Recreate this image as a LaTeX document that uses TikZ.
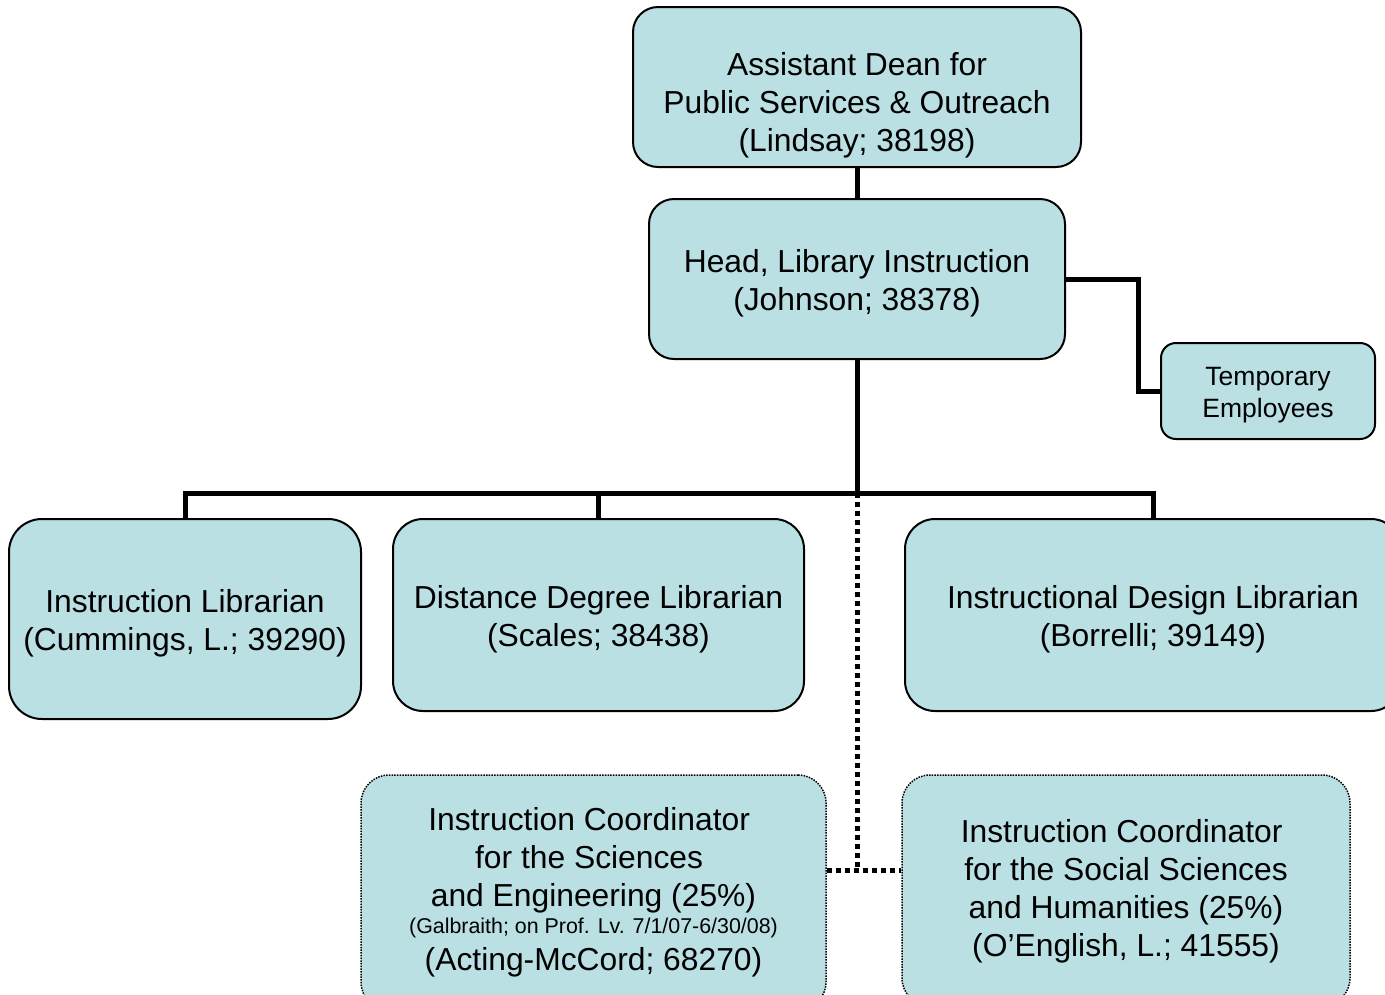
\documentclass[tikz,border=0pt]{standalone}
\usepackage{fontspec}
\setmainfont{Liberation Sans}
\definecolor{boxfill}{RGB}{186,224,228}
\newcommand{\trailsp}{\rule{8.8pt}{0pt}}
\begin{document}
\begin{tikzpicture}[x=1pt,y=-1pt,
  box/.style={draw=black, line width=2pt, fill=boxfill, rounded corners=30pt, inner sep=0pt},
  dbox/.style={box, line width=1.5pt, dash pattern=on 1.5pt off 1.2pt, rounded corners=28pt},
  lbl/.style={align=center, inner sep=0pt, font=\fontsize{31.8}{38}\selectfont},
  smalllbl/.style={lbl, font=\fontsize{26.5}{32}\selectfont},
  conn/.style={line width=5pt},
  dconn/.style={line width=5pt, dash pattern=on 5pt off 4pt}]
\useasboundingbox (0,0) rectangle (1385,994);
\clip (0,0) rectangle (1385,994);

\coordinate (bar) at (857,493);
\coordinate (dj) at (857,870);

% boxes
\node[box, rounded corners=25pt, minimum width=448pt, minimum height=160pt] (dean) at (857,87) {};
\node[box, rounded corners=25pt, minimum width=416pt, minimum height=160pt] (head) at (857,279) {};
\node[box, rounded corners=15pt, minimum width=214pt, minimum height=96pt] (temp) at (1268,391) {};
\node[box, rounded corners=33pt, minimum width=352pt, minimum height=200pt] (il) at (185,619) {};
\node[box, minimum width=411pt, minimum height=192pt] (dl) at (598.5,615) {};
\node[box, minimum width=496pt, minimum height=192pt] (idl) at (1153,615) {};
\node[dbox, minimum width=465pt, minimum height=235pt] (sci) at (593.5,892.5) {};
\node[dbox, minimum width=448pt, minimum height=231pt] (soc) at (1126,890.5) {};

% texts
\node[lbl] (deanlabel) at ([yshift=-18pt]dean.center)
  {Assistant Dean for\\Public Services \& Outreach\\(Lindsay; 38198)};
\node[lbl] (headlabel) at ([yshift=-4pt]head.center)
  {Head, Library Instruction\\(Johnson; 38378)};
\node[smalllbl] (templabel) at ([yshift=-4pt]temp.center)
  {Temporary\\Employees};
\node[lbl] (illabel) at ([yshift=-4pt]il.center)
  {Instruction Librarian\\(Cummings, L.; 39290)};
\node[lbl] (dllabel) at ([yshift=-4pt]dl.center)
  {Distance Degree Librarian\\(Scales; 38438)};
\node[lbl] (idllabel) at ([yshift=-4pt]idl.center)
  {Instructional Design Librarian\\(Borrelli; 39149)};
\node[lbl] (scilabel) at (sci.center)
  {Instruction Coordinator\trailsp\\for the Sciences\trailsp\\and Engineering (25\%)\\[-11pt]
   {\fontsize{21.4}{24}\selectfont (Galbraith; on Prof. Lv. 7/1/07-6/30/08)}\\[-1pt]
   (Acting-McCord; 68270)};
\node[lbl] (soclabel) at ([yshift=-1pt]soc.center)
  {Instruction Coordinator\trailsp\\for the Social Sciences\\and Humanities (25\%)\\(O’English, L.; 41555)};

% connectors
\draw[conn] (dean.south) -- (head.north);
\draw[conn] (head.east) -- ++(72,0) |- (temp.west);
\draw[conn] (head.south) -- (bar);
\draw[conn] (il.north) |- (bar) -| (idl.north);
\draw[conn] (dl.north) |- (bar);
\draw[dconn] (bar) -- (dj);
\draw[dconn] (sci.east |- dj) -- (soc.west |- dj);
\end{tikzpicture}
\end{document}
